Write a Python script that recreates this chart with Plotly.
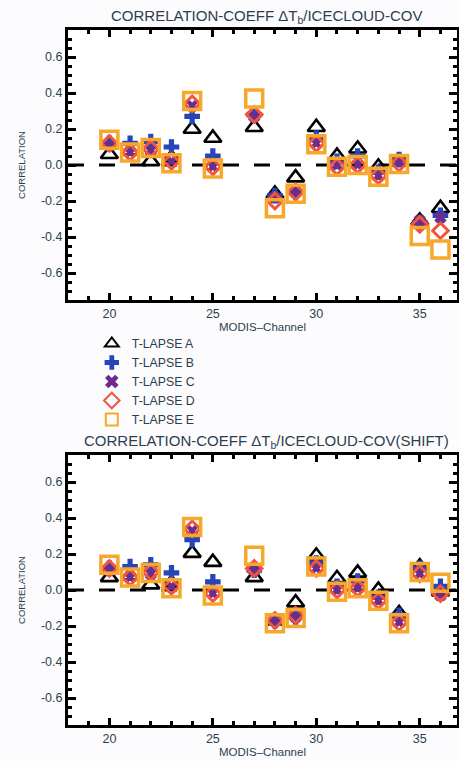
import plotly.graph_objects as go

channels = [20, 21, 22, 23, 24, 25, 27, 28, 29, 30, 31, 32, 33, 34, 35, 36]
series_names = ["T-LAPSE A", "T-LAPSE B", "T-LAPSE C", "T-LAPSE D", "T-LAPSE E"]

# top panel: CORRELATION-COEFF dTb/ICECLOUD-COV
top_a = [0.06, 0.08, 0.02, 0.04, 0.20, 0.15, 0.21, -0.16, -0.07, 0.21, 0.05, 0.09, -0.01, 0.02, -0.31, -0.24]
top_b = [0.12, 0.12, 0.13, 0.10, 0.27, 0.05, 0.28, -0.17, -0.15, 0.15, 0.02, 0.05, -0.04, 0.03, -0.32, -0.28]
top_c = [0.11, 0.07, 0.08, 0.02, 0.33, -0.01, 0.27, -0.18, -0.15, 0.12, 0.00, 0.00, -0.06, 0.02, -0.31, -0.29]
top_d = [0.12, 0.07, 0.09, 0.02, 0.34, -0.01, 0.28, -0.20, -0.15, 0.12, -0.01, 0.00, -0.06, 0.01, -0.33, -0.365]
top_e = [0.14, 0.07, 0.095, 0.01, 0.355, -0.02, 0.37, -0.24, -0.16, 0.115, -0.01, 0.00, -0.065, 0.005, -0.395, -0.47]

# bottom panel: (SHIFT)
bot_a = [0.07, 0.08, 0.03, 0.04, 0.205, 0.155, 0.07, -0.17, -0.07, 0.19, 0.065, 0.095, 0.00, -0.13, 0.13, -0.01]
bot_b = [0.12, 0.13, 0.14, 0.095, 0.28, 0.045, 0.11, -0.17, -0.15, 0.15, 0.02, 0.05, -0.04, -0.14, 0.12, 0.02]
bot_c = [0.11, 0.07, 0.09, 0.02, 0.33, -0.02, 0.11, -0.17, -0.15, 0.12, 0.00, 0.01, -0.06, -0.18, 0.09, -0.03]
bot_d = [0.12, 0.07, 0.10, 0.02, 0.34, -0.02, 0.12, -0.17, -0.14, 0.12, 0.00, 0.01, -0.06, -0.18, 0.09, -0.02]
bot_e = [0.14, 0.07, 0.095, 0.01, 0.35, -0.03, 0.19, -0.185, -0.155, 0.13, -0.01, 0.01, -0.06, -0.185, 0.10, 0.04]

x_tickvals = [20, 25, 30, 35]
x_ticktext = ["20", "25", "30", "35"]
y_tickvals = [0.6, 0.4, 0.2, 0.0, -0.2, -0.4, -0.6]
y_ticktext = ["0.6", "0.4", "0.2", "0.0", "-0.2", "-0.4", "-0.6"]

titles = ["CORRELATION-COEFF \u0394T<sub>b</sub>/ICECLOUD-COV",
          "CORRELATION-COEFF \u0394T<sub>b</sub>/ICECLOUD-COV(SHIFT)"]

styles = [
    dict(symbol="triangle-up-open", size=15, color="black", line=dict(width=2.6, color="black")),
    dict(symbol="cross", size=13, color="#2645b8", line=dict(width=0)),
    dict(symbol="x", size=11, color="#6a2d8e", line=dict(width=0)),
    dict(symbol="diamond-open", size=12, color="#f2553c", line=dict(width=3, color="#f2553c")),
    dict(symbol="square-open", size=17, color="#f7a82a", line=dict(width=3.5, color="#f7a82a")),
]

FONT = "Liberation Sans"
TXT = "#2c3e4c"
W, H = 459, 761

fig = go.Figure()
panels = [(top_a, top_b, top_c, top_d, top_e), (bot_a, bot_b, bot_c, bot_d, bot_e)]
for p, data in enumerate(panels):
    xa = "x" if p == 0 else "x2"
    ya = "y" if p == 0 else "y2"
    for i, vals in enumerate(data):
        fig.add_trace(go.Scatter(
            x=channels, y=vals, mode="markers", name=series_names[i],
            marker=styles[i], xaxis=xa, yaxis=ya, showlegend=(p == 0),
            legendgroup=series_names[i]))

xdom = [68 / W, 457 / W]
ydom_top = [1 - 300 / H, 1 - 30 / H]
ydom_bot = [1 - 725 / H, 1 - 455 / H]

axis_common = dict(showline=True, linewidth=3, linecolor="black", mirror="allticks",
                   ticks="inside", tickwidth=3, tickcolor="black", showgrid=False,
                   zeroline=False, tickfont=dict(family=FONT, size=12.5, color=TXT))
xcommon = dict(axis_common, range=[18, 36.8], tickvals=x_tickvals, ticktext=x_ticktext, ticklen=7,
               minor=dict(dtick=1, tick0=0, ticks="inside", ticklen=4, tickwidth=3, tickcolor="black"),
               title=dict(text="MODIS\u2013Channel", font=dict(family=FONT, size=11.5, color=TXT), standoff=2))
ycommon = dict(axis_common, range=[-0.75, 0.75], tickvals=y_tickvals, ticktext=y_ticktext, ticklen=8,
               minor=dict(dtick=0.05, tick0=0, ticks="inside", ticklen=4, tickwidth=3, tickcolor="black"),
               title=dict(text="CORRELATION", font=dict(family=FONT, size=9.5, color=TXT), standoff=14))

fig.update_layout(
    width=W, height=H, margin=dict(l=0, r=0, t=0, b=0),
    paper_bgcolor="#fcfcfe", plot_bgcolor="white",
    xaxis=dict(xcommon, domain=xdom, anchor="y"),
    yaxis=dict(ycommon, domain=ydom_top, anchor="x"),
    xaxis2=dict(xcommon, domain=xdom, anchor="y2"),
    yaxis2=dict(ycommon, domain=ydom_bot, anchor="x2"),
    showlegend=True,
    legend=dict(x=0.2, y=1 - 329 / H, xanchor="left", yanchor="top",
                bgcolor="rgba(0,0,0,0)", font=dict(family=FONT, size=12.3, color=TXT),
                tracegroupgap=0, itemsizing="constant", itemwidth=30),
)

for p, (xr, yr) in enumerate([("x", "y"), ("x2", "y2")]):
    fig.add_shape(type="line", xref=f"{xr} domain", yref=yr, x0=0, x1=1, y0=0, y1=0,
                  line=dict(color="black", width=3, dash="16px,15px"), layer="below")
    fig.add_annotation(text=titles[p], xref=f"{xr} domain", yref=f"{yr} domain", x=0.51, y=1,
                       xanchor="center", yanchor="bottom", yshift=2, showarrow=False,
                       font=dict(family=FONT, size=15, color=TXT))

fig.write_html("out.html")
